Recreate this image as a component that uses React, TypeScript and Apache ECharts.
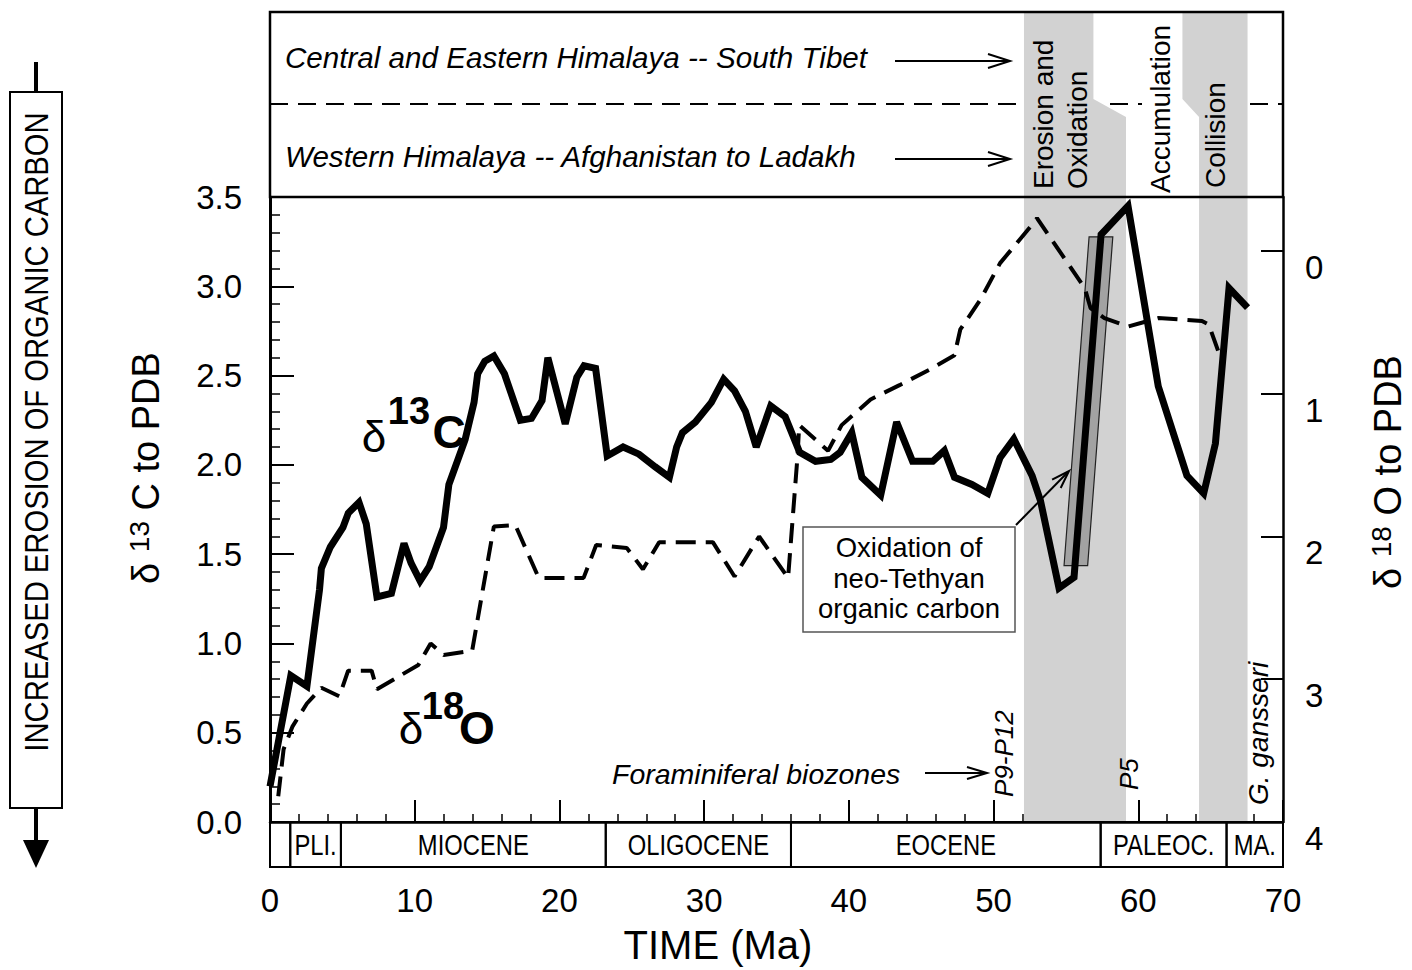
import React, { useEffect, useRef } from "react";
import * as echarts from "echarts";

// ---- data (time in Ma) ----
const timeC13 = [0.0, 1.44, 2.55, 3.42, 3.55, 4.17, 5.04, 5.41, 6.15, 6.65, 7.39, 8.39, 9.26, 9.75, 10.37, 11.0, 11.99, 12.36, 13.48, 14.1, 14.35, 14.84, 15.47, 16.2, 17.3, 18.07, 18.8, 19.2, 20.4, 21.2, 21.7, 22.5, 23.3, 24.4, 25.5, 26.6, 27.6, 28.1, 28.5, 29.4, 30.5, 31.35, 32.1, 32.85, 33.6, 34.6, 35.6, 36.6, 37.7, 38.75, 39.4, 40.2, 40.9, 42.2, 43.3, 44.4, 45.8, 46.6, 47.3, 48.5, 49.6, 50.45, 51.4, 52.66, 53.24, 54.52, 55.56, 57.43, 59.29, 61.38, 63.36, 64.52, 65.33, 66.27, 67.55];
const valueC13 = [0.2, 0.82, 0.76, 1.3, 1.42, 1.54, 1.65, 1.73, 1.79, 1.67, 1.26, 1.28, 1.56, 1.45, 1.35, 1.43, 1.65, 1.89, 2.14, 2.35, 2.51, 2.58, 2.61, 2.51, 2.25, 2.26, 2.36, 2.6, 2.23, 2.49, 2.555, 2.54, 2.05, 2.1, 2.06, 1.99, 1.93, 2.1, 2.18, 2.24, 2.35, 2.48, 2.415, 2.3, 2.1, 2.33, 2.27, 2.07, 2.02, 2.03, 2.07, 2.18, 1.93, 1.83, 2.24, 2.02, 2.02, 2.08, 1.93, 1.89, 1.84, 2.04, 2.145, 1.94, 1.8, 1.31, 1.37, 3.29, 3.45, 2.44, 1.94, 1.84, 2.12, 2.99, 2.88];

const timeO18 = [0.57, 0.94, 1.56, 2.55, 3.55, 4.79, 5.4, 7.02, 7.39, 10.25, 11.1, 12.0, 13.97, 15.47, 16.95, 18.57, 21.67, 22.54, 24.65, 25.77, 26.89, 30.6, 32.1, 33.8, 35.8, 36.45, 36.57, 38.56, 39.5, 41.5, 43.5, 45.6, 47.3, 47.7, 49.1, 50.45, 52.8, 53.0, 56.3, 56.7, 57.66, 59.29, 61.38, 64.4, 64.87, 65.57];
const valueO18 = [3.82, 3.49, 3.33, 3.17, 3.06, 3.12, 2.94, 2.94, 3.07, 2.9, 2.75, 2.83, 2.8, 1.93, 1.92, 2.29, 2.29, 2.06, 2.08, 2.23, 2.04, 2.04, 2.28, 2.0, 2.29, 1.44, 1.22, 1.4, 1.22, 1.04, 0.94, 0.83, 0.73, 0.55, 0.34, 0.085, -0.2, -0.23, 0.26, 0.4, 0.47, 0.53, 0.47, 0.49, 0.515, 0.715];

const epochNames = ["", "PLI.", "MIOCENE", "OLIGOCENE", "EOCENE", "PALEOC.", "MA."];
const epochStart = [0, 1.4, 4.9, 23.2, 36.0, 57.4, 66.1];
const epochEnd = [1.4, 4.9, 23.2, 36.0, 57.4, 66.1, 70];

// shaded bands: [from, to, fromInTopPanel, toInTopPanel]
const bandFrom = [52.1, 64.2];
const bandTo = [59.15, 67.55];
const bandTopFrom = [52.1, 63.05];
const bandTopTo = [56.9, 67.55];

// grey oxidation bar (time, d13C corners)
const barTime = [54.87, 56.5, 58.24, 56.6];
const barValue = [1.436, 1.436, 3.277, 3.277];

const leftTicks = [0, 0.5, 1, 1.5, 2, 2.5, 3, 3.5];
const rightTicks = [0, 1, 2, 3, 4];

const SANS = "'Liberation Sans', Arial, Helvetica, sans-serif";

export default function App() {
  const ref = useRef<HTMLDivElement>(null);
  useEffect(() => {
    if (!ref.current) return;
    const chart = echarts.init(ref.current, undefined, { renderer: "svg" });
    const bandData = bandFrom.map((f, i) => [f, bandTo[i], bandTopFrom[i], bandTopTo[i]]);
    const epochData = epochStart.map((s, i) => [s, epochEnd[i], i]);
    const barData = [barTime.map((t, i) => [t, barValue[i]])];

    const arrowHead = (x: number, y: number, dx: number, dy: number, len = 22, half = 7) => {
      const l = Math.hypot(dx, dy);
      const ux = dx / l, uy = dy / l;
      const bx = x - ux * len, by = y - uy * len;
      return {
        type: "polyline", z: 20,
        shape: { points: [[bx - uy * half, by + ux * half], [x, y], [bx + uy * half, by - ux * half]] },
        style: { stroke: "#000", lineWidth: 2, fill: "none" },
      };
    };

    const txt = (text: string, x: number, y: number, o: any = {}) => ({
      type: "text", x, y, z: 20, rotation: o.rotation || 0, scaleX: o.scaleX || 1,
      style: {
        text, fill: "#000", fontSize: o.size || 28, fontFamily: SANS,
        fontStyle: o.italic ? "italic" : "normal", fontWeight: o.bold ? "bold" : "normal",
        align: o.align || "left", verticalAlign: o.va || "middle",
      },
    });

    const titleRich = {
      a: { fontSize: 38, fontFamily: SANS, lineHeight: 40, verticalAlign: "bottom", fill: "#000" },
      b: { fontSize: 28, fontFamily: SANS, lineHeight: 40, verticalAlign: "top", fill: "#000" },
    };

    const option: any = {
      animation: false,
      backgroundColor: "#fff",
      grid: [
        { left: 270, top: 197, width: 1013, height: 625 },
        { left: 270, top: 822, width: 1013, height: 45 },
      ],
      xAxis: [
        {
          type: "value", gridIndex: 0, min: 0, max: 70, interval: 10,
          axisLine: { lineStyle: { color: "#000", width: 2.5 } },
          axisTick: { inside: true, length: 22, lineStyle: { color: "#000", width: 2 } },
          minorTick: { show: true, splitNumber: 5, length: 8, lineStyle: { color: "#000", width: 1.5 } },
          splitLine: { show: false },
          axisLabel: { margin: 62, fontSize: 33, color: "#000", fontFamily: SANS },
        },
        { type: "value", gridIndex: 1, min: 0, max: 70, show: false },
      ],
      yAxis: [
        {
          type: "value", gridIndex: 0, min: 0, max: 3.5, interval: 0.5, position: "left",
          axisLine: { show: true, lineStyle: { color: "#000", width: 3 } },
          axisTick: { inside: true, length: 24, lineStyle: { color: "#000", width: 2 }, customValues: leftTicks },
          minorTick: { show: true, splitNumber: 5, length: 10, lineStyle: { color: "#000", width: 1.5 } },
          splitLine: { show: false },
          axisLabel: { margin: 28, fontSize: 33, color: "#000", fontFamily: SANS, formatter: (v: number) => v.toFixed(1) },
        },
        {
          type: "value", gridIndex: 0, min: -0.378, max: 4, inverse: true, position: "right",
          axisLine: { show: true, lineStyle: { color: "#000", width: 2.5 } },
          axisTick: { inside: true, length: 22, lineStyle: { color: "#000", width: 2 }, customValues: rightTicks },
          splitLine: { show: false },
          axisLabel: { margin: 22, fontSize: 33, color: "#000", fontFamily: SANS, verticalAlign: "top", customValues: rightTicks },
        },
        { type: "value", gridIndex: 1, min: 0, max: 1, show: false },
      ],
      series: [
        {
          type: "custom", name: "bands", xAxisIndex: 0, yAxisIndex: 0, z: 1, clip: false, silent: true,
          data: bandData,
          renderItem: (params: any, api: any) => {
            const from = api.value(0), to = api.value(1), tFrom = api.value(2), tTo = api.value(3);
            const bottom = api.coord([from, 0])[1];
            const plotTop = api.coord([from, 3.5])[1];
            const panelTop = plotTop - 185;
            const yHi = plotTop - 98, yLo = plotTop - 80;
            const X = (v: number) => api.coord([v, 0])[0];
            const pts: number[][] = [[X(from), bottom]];
            if (tFrom < from) pts.push([X(from), yLo], [X(tFrom), yHi], [X(tFrom), panelTop]);
            else pts.push([X(from), panelTop]);
            if (tTo < to) pts.push([X(tTo), panelTop], [X(tTo), yHi], [X(to), yLo]);
            else pts.push([X(to), panelTop]);
            pts.push([X(to), bottom]);
            return { type: "polygon", shape: { points: pts }, style: { fill: "#d2d2d2" } };
          },
        },
        {
          type: "custom", name: "bar", xAxisIndex: 0, yAxisIndex: 0, z: 2, silent: true,
          data: [0],
          renderItem: (params: any, api: any) => ({
            type: "polygon",
            shape: { points: barData[0].map((p) => api.coord(p)) },
            style: { fill: "#a2a2a2", stroke: "#222", lineWidth: 1.2 },
          }),
        },
        {
          type: "line", name: "d13C", xAxisIndex: 0, yAxisIndex: 0, z: 4, showSymbol: false, symbol: "none",
          data: timeC13.map((t, i) => [t, valueC13[i]]),
          lineStyle: { color: "#000", width: 7, join: "miter", miterLimit: 3 },
        },
        {
          type: "line", name: "d18O", xAxisIndex: 0, yAxisIndex: 1, z: 3, showSymbol: false, symbol: "none",
          data: timeO18.map((t, i) => [t, valueO18[i]]),
          lineStyle: { color: "#000", width: 4, type: [20, 10] },
        },
        {
          type: "custom", name: "epochs", xAxisIndex: 1, yAxisIndex: 2, z: 5, silent: true,
          data: epochData,
          renderItem: (params: any, api: any) => {
            const s = api.coord([api.value(0), 0]);
            const e = api.coord([api.value(1), 1]);
            return {
              type: "group",
              children: [
                { type: "rect", shape: { x: s[0], y: e[1], width: e[0] - s[0], height: s[1] - e[1] }, style: { fill: "none", stroke: "#000", lineWidth: 2 } },
                {
                  type: "text", x: (s[0] + e[0]) / 2, y: (s[1] + e[1]) / 2 + 1, scaleX: 0.82,
                  style: { text: epochNames[api.value(2)], x: 0, y: 0, align: "center", verticalAlign: "middle", fontSize: 29, fontFamily: SANS, fill: "#000" },
                },
              ],
            };
          },
        },
      ],
      graphic: [
        // top panel
        { type: "line", z: 0, shape: { x1: 270, y1: 104, x2: 1142, y2: 104 }, style: { stroke: "#000", lineWidth: 2, lineDash: [18, 10] } },
        { type: "line", z: 0, shape: { x1: 1250, y1: 104, x2: 1283, y2: 104 }, style: { stroke: "#000", lineWidth: 2, lineDash: [18, 10] } },
        { type: "rect", z: 15, shape: { x: 270, y: 12, width: 1013, height: 185 }, style: { fill: "none", stroke: "#000", lineWidth: 2.5 } },
        txt("Central and Eastern Himalaya -- South Tibet", 285, 57, { italic: true, size: 29.6 }),
        txt("Western Himalaya -- Afghanistan to Ladakh", 285, 156, { italic: true, size: 29.6 }),
        { type: "line", z: 20, shape: { x1: 895, y1: 61, x2: 1008, y2: 61 }, style: { stroke: "#000", lineWidth: 2 } },
        arrowHead(1010, 61, 1, 0),
        { type: "line", z: 20, shape: { x1: 895, y1: 159, x2: 1008, y2: 159 }, style: { stroke: "#000", lineWidth: 2 } },
        arrowHead(1010, 159, 1, 0),
        txt("Erosion and", 1043, 189, { rotation: Math.PI / 2, size: 28 }),
        txt("Oxidation", 1077, 189, { rotation: Math.PI / 2, size: 28 }),
        txt("Accumulation", 1160, 193, { rotation: Math.PI / 2, size: 28 }),
        txt("Collision", 1215, 188, { rotation: Math.PI / 2, size: 28 }),
        // series labels
        txt("δ", 374, 436, { size: 44, align: "center" }),
        txt("13", 409, 411, { size: 38, bold: true, align: "center" }),
        txt("C", 449, 432, { size: 46, bold: true, align: "center" }),
        txt("δ", 411, 728, { size: 44, align: "center" }),
        txt("18", 443, 706, { size: 38, bold: true, align: "center" }),
        txt("O", 477, 728, { size: 46, bold: true, align: "center" }),
        // oxidation box
        { type: "rect", z: 18, shape: { x: 803, y: 527, width: 212, height: 105 }, style: { fill: "#fff", stroke: "#555", lineWidth: 1.5 } },
        txt("Oxidation of", 909, 547, { size: 27.5, align: "center" }),
        txt("neo-Tethyan", 909, 578, { size: 27.5, align: "center" }),
        txt("organic carbon", 909, 608, { size: 27.5, align: "center" }),
        { type: "line", z: 20, shape: { x1: 1016, y1: 525, x2: 1068, y2: 472 }, style: { stroke: "#000", lineWidth: 2 } },
        arrowHead(1069, 471, 52, -53, 18, 6),
        // biozones
        txt("Foraminiferal biozones", 612, 774, { italic: true, size: 28.5 }),
        { type: "line", z: 20, shape: { x1: 925, y1: 773, x2: 985, y2: 773 }, style: { stroke: "#000", lineWidth: 2 } },
        arrowHead(987, 773, 1, 0, 20, 6),
        txt("P9-P12", 1004, 797, { rotation: Math.PI / 2, italic: true, size: 26 }),
        txt("P5", 1129, 790, { rotation: Math.PI / 2, italic: true, size: 26 }),
        txt("G. gansseri", 1258, 805, { rotation: Math.PI / 2, italic: true, size: 28 }),
        // axis titles
        {
          type: "text", x: 145, y: 468, z: 20, rotation: Math.PI / 2,
          style: { text: "{a|δ }{b|13}{a| C to PDB}", align: "center", verticalAlign: "middle", rich: titleRich },
        },
        {
          type: "text", x: 1387, y: 472, z: 20, rotation: Math.PI / 2,
          style: { text: "{a|δ }{b|18}{a| O to PDB}", align: "center", verticalAlign: "middle", rich: titleRich },
        },
        txt("TIME (Ma)", 718, 945, { size: 40, align: "center" }),
        // left erosion arrow box
        { type: "line", z: 20, shape: { x1: 36, y1: 62, x2: 36, y2: 92 }, style: { stroke: "#000", lineWidth: 4 } },
        { type: "line", z: 20, shape: { x1: 36, y1: 808, x2: 36, y2: 842 }, style: { stroke: "#000", lineWidth: 4 } },
        { type: "polygon", z: 20, shape: { points: [[23, 840], [49, 840], [36, 868]] }, style: { fill: "#000" } },
        { type: "rect", z: 19, shape: { x: 10, y: 92, width: 52, height: 716 }, style: { fill: "#fff", stroke: "#000", lineWidth: 2 } },
        txt("INCREASED EROSION OF ORGANIC CARBON", 37, 432, { rotation: Math.PI / 2, size: 33, scaleX: 0.885, align: "center" }),
      ],
    };
    chart.setOption(option);
    return () => chart.dispose();
  }, []);
  return (
    <div
      ref={ref}
      style={{ position: "fixed", left: 0, top: 0, width: 1412, height: 970, background: "#fff" }}
    />
  );
}
